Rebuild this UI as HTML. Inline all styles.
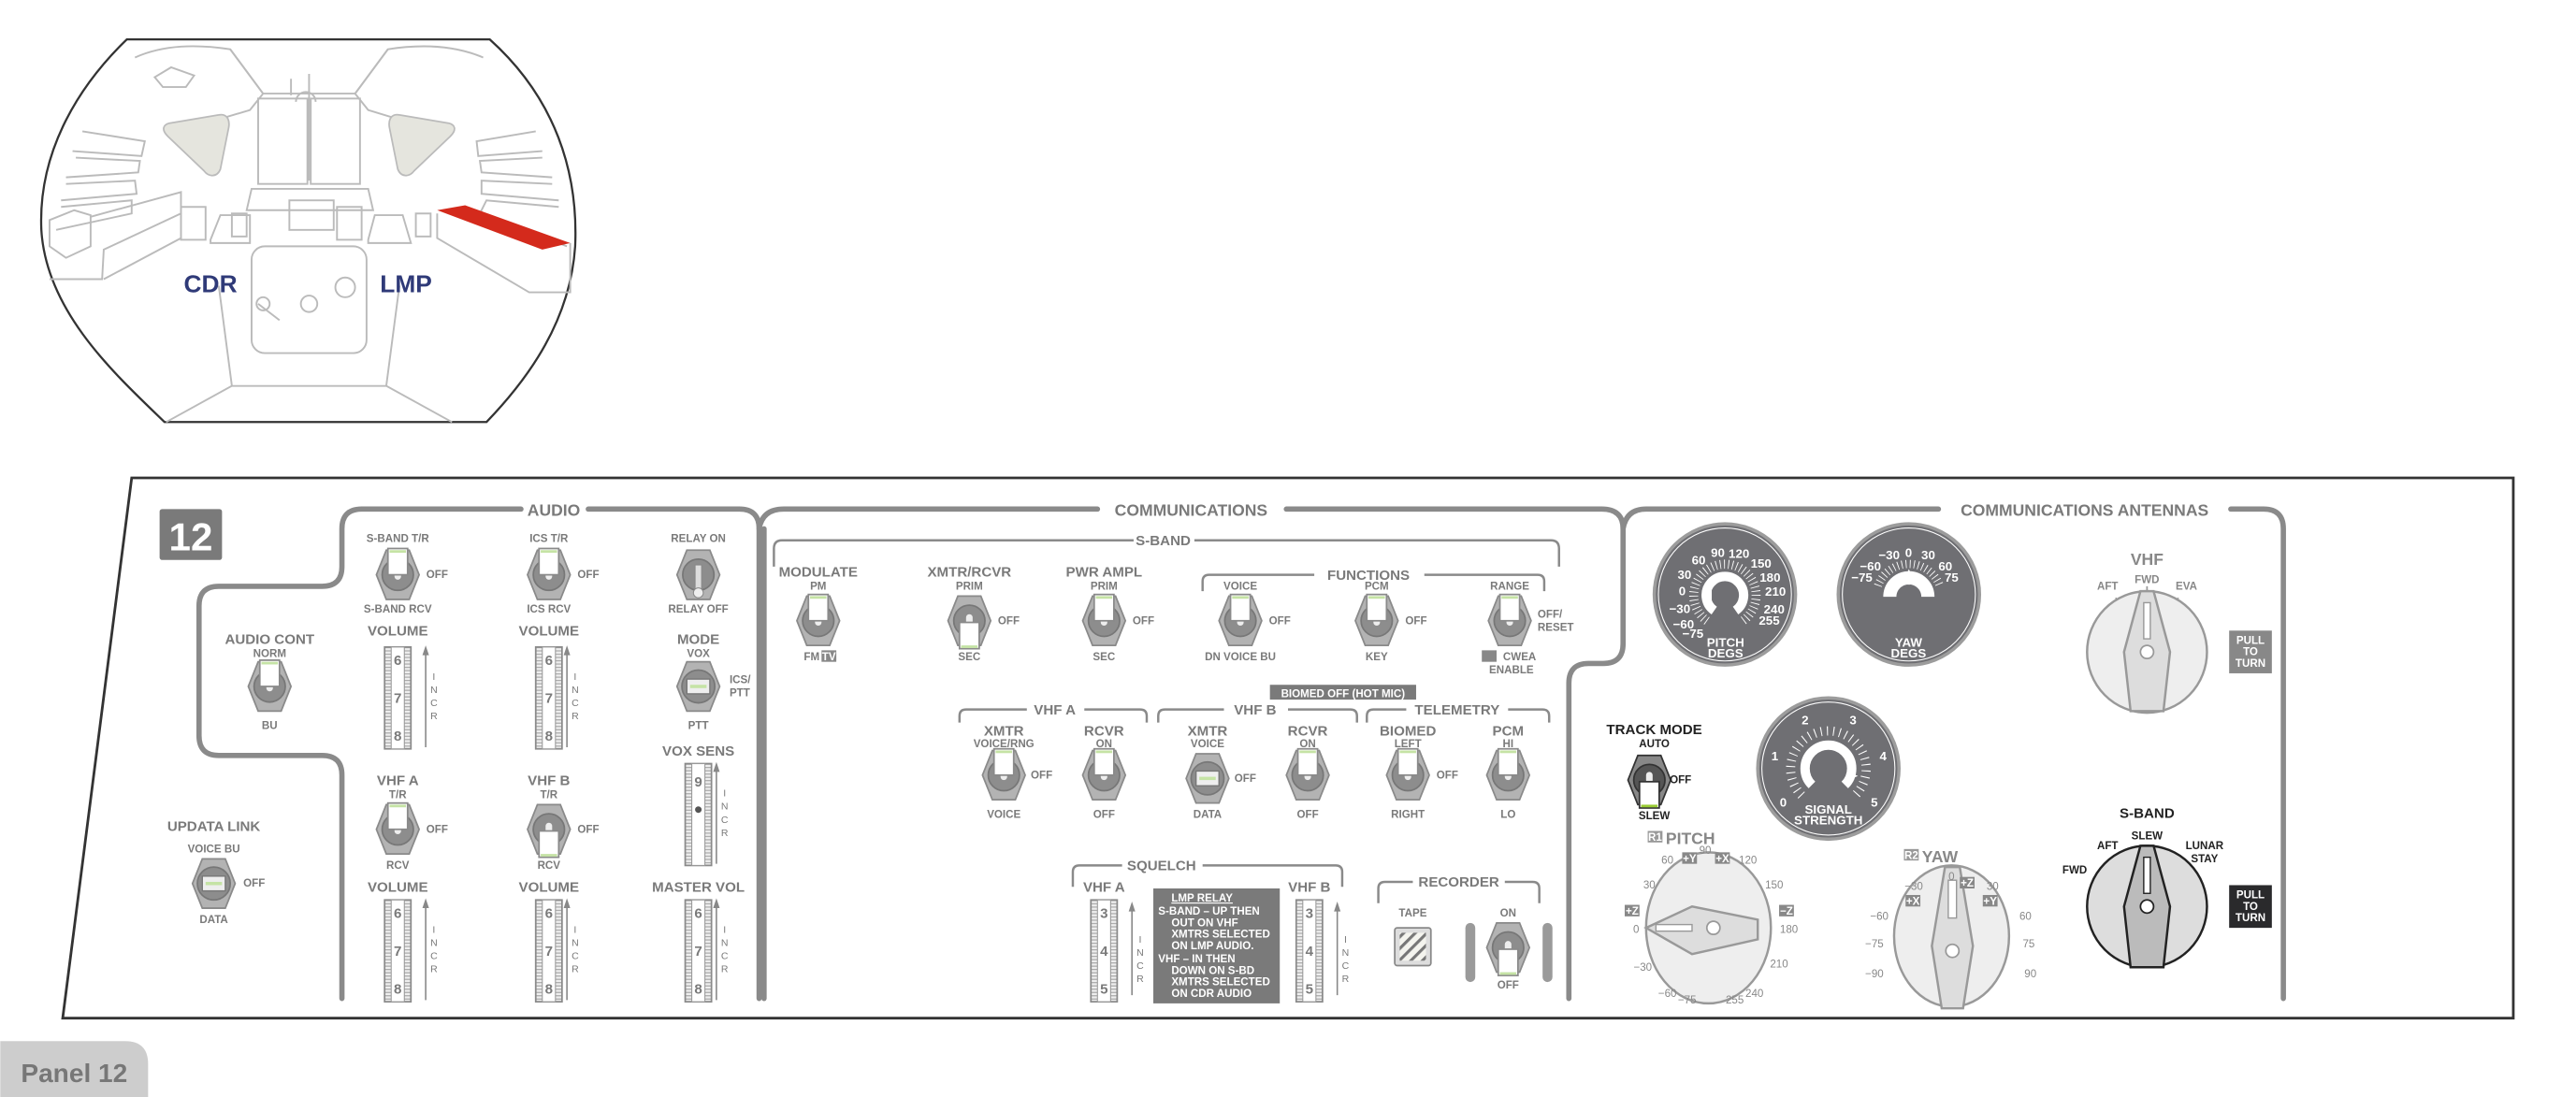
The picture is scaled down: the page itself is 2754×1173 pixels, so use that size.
<!DOCTYPE html>
<html><head><meta charset="utf-8"><style>
html,body{margin:0;padding:0;background:#fff;width:2754px;height:1173px;overflow:hidden}
svg{display:block}
text{font-family:"Liberation Sans Narrow","Liberation Sans",sans-serif;font-weight:bold;fill:#7a7a7a;text-anchor:middle}
.h{font-size:10px}.m{font-size:8.6px}.s{font-size:6.6px}
text.w,.w text{fill:#fff}
text.k,.k text{fill:#222}
text.gy,.gy text{fill:#888}
text.st,.st text{text-anchor:start}
.nm text{font-weight:normal}
.g{fill:none;stroke:#8a8a8a;stroke-width:3.2;stroke-linecap:round}
.t{fill:none;stroke:#8a8a8a;stroke-width:1.4}
.c{fill:none;stroke:#bbb;stroke-width:1.1}
</style></head><body>
<svg width="2754" height="1173" viewBox="0 0 1568 668" xmlns="http://www.w3.org/2000/svg">
<defs>
<g id="hex"><polygon points="-13,0 -7,-15 7,-15 13,0 7,15 -7,15" fill="#b3b3b3" stroke="#8a8a8a" stroke-width="1"/><circle r="9.5" fill="#8d8d8d" stroke="#777" stroke-width="1"/><rect x="-2" y="-4" width="4" height="7" rx="2" fill="#eee"/></g>
<g id="up"><use href="#hex"/><rect x="-6" y="-16" width="12" height="16" fill="#fff" stroke="#8a8a8a" stroke-width="1"/><rect x="-5" y="-15" width="10" height="1.6" fill="#c5e3a5"/></g>
<g id="dn"><use href="#hex"/><rect x="-6" y="1" width="12" height="16" fill="#fff" stroke="#8a8a8a" stroke-width="1"/><rect x="-5" y="15" width="10" height="1.6" fill="#c5e3a5"/></g>
<g id="th"><polygon points="-13,0 -7,-15 7,-15 13,0 7,15 -7,15" fill="#b3b3b3" stroke="#8a8a8a" stroke-width="1"/><circle r="10" fill="#8d8d8d" stroke="#777"/><rect x="-7" y="-4.5" width="14" height="9" fill="#eee" stroke="#777" stroke-width="0.8"/><rect x="-5" y="-1" width="10" height="2" fill="#c5e3a5"/></g>
<pattern id="tk" width="4" height="2" patternUnits="userSpaceOnUse"><rect width="4" height="2" fill="#eee"/><rect y="0" width="4" height="0.7" fill="#aaa"/></pattern>
<g id="wh"><rect x="-8" y="0" width="16" height="62" fill="url(#tk)" stroke="#8a8a8a" stroke-width="1"/><rect x="-4" y="0" width="8" height="62" fill="#fff" stroke="#999" stroke-width="0.6"/></g>
<pattern id="hatch" width="5" height="5" patternUnits="userSpaceOnUse" patternTransform="rotate(-45)"><rect width="5" height="5" fill="#f4f4ee"/><rect width="5" height="1.8" fill="#777"/></pattern>
</defs>

<!-- COCKPIT -->
<path d="M77,24 L298,24 C338,60 352,105 350,150 C347,195 322,230 296,257 L100,257 C70,228 28,190 25,140 C23,95 45,55 77,24 Z" fill="#fff" stroke="#333" stroke-width="1.3"/>
<g class="c">
<path d="M82,35 C100,27 120,27 140,30 L160,57 L216,57 L236,30 C255,27 275,27 294,35"/>
<path d="M140,30 L160,57 L152,67 L115,78 M236,30 L216,57 L224,67 L260,78"/>
<path d="M94,47 L104,41 L118,46 L113,53 L99,53 Z"/>
<rect x="157" y="60" width="30" height="52"/><rect x="189" y="60" width="30" height="52"/>
<path d="M153,115 L224,115 L227,128 L150,128 Z"/>
<rect x="176" y="122" width="27" height="18"/>
<rect x="153" y="150" width="70" height="65" rx="8"/>
<circle cx="188" cy="185" r="5"/><circle cx="210" cy="175" r="6"/><circle cx="160" cy="185" r="4"/>
<path d="M157,185 L170,195"/>
<path d="M50,80 L88,86 L86,95 L44,92 M46,96 L85,98 L84,105 L40,108 M40,112 L82,110 L83,118 L37,122 M37,126 L80,122 L80,130 L34,140"/>
<path d="M326,80 L290,86 L291,95 L330,92 M330,96 L292,98 L293,105 L336,108 M336,112 L293,110 L293,118 L340,122 M340,126 L296,122 L292,130 L345,150"/>
<path d="M30,134 L45,128 L55,131 L55,150 L40,157 L30,150 Z M55,132 L110,117 L110,130 L63,152 L62,170 L30,170"/>
<path d="M110,130 L110,145 L63,170"/>
<rect x="110" y="126" width="15" height="20"/><rect x="205" y="126" width="15" height="20"/>
<path d="M128,146 L134,131 L152,131 L152,148 L128,148 Z M224,146 L228,131 L245,131 L250,148 L224,148 Z"/>
<rect x="141" y="130" width="9" height="14"/><rect x="253" y="130" width="9" height="14"/>
<path d="M133,174 L141,235 L101,257 M243,174 L235,235 L275,257 M141,235 L235,235"/>
<path d="M266,130 L266,145 L322,178 L347,178 L347,148"/>
<path d="M188,45 L188,110 M177,58 L177,48 M180,62 A6,6 0 1 1 192,62"/>
</g>
<path d="M103,75 L133,70 C138,69 140,73 139,78 L134,103 C132,108 127,108 124,104 L102,83 C98,79 99,76 103,75 Z" fill="#e5e5de" stroke="#bbb"/>
<path d="M273,75 L243,70 C238,69 236,73 237,78 L242,103 C244,108 249,108 252,104 L274,83 C278,79 277,76 273,75 Z" fill="#e5e5de" stroke="#bbb"/>
<polygon points="266,128 283,125 347,148 330,152" fill="#d42a1c"/>
<text x="128" y="178" style="font-family:'Liberation Sans',sans-serif;font-size:15px;fill:#2f3a78">CDR</text>
<text x="247" y="178" style="font-family:'Liberation Sans',sans-serif;font-size:15px;fill:#2f3a78">LMP</text>

<!-- PANEL FRAME -->
<polygon points="80,291 1530,291 1530,620 38,620" fill="#fff" stroke="#333" stroke-width="1.6"/>
<rect x="97" y="310" width="38" height="31" rx="1.5" fill="#7a7a7a"/>
<text x="116" y="335" class="w" style="font-family:'Liberation Sans',sans-serif;font-size:24px">12</text>
<path d="M0,634 L76,634 Q90,634 90,648 L90,668 L0,668 Z" fill="#cdcdcd"/>
<text x="45" y="659" style="font-family:'Liberation Sans',sans-serif;font-size:16px;fill:#777">Panel 12</text>

<!-- GROUP BORDERS -->
<path class="g" d="M208,608 L208,472 Q208,460 196,460 L133,460 Q121,460 121,448 L121,369 Q121,357 133,357 L196,357 Q208,357 208,345 L208,322 Q208,310 220,310 L317,310 M358,310 L450,310 Q462,310 462,322 L462,608"/>
<path class="g" d="M462,322 Q464,310 477,310 L668,310 M783,310 L975,310 Q988,310 988,322 L988,392 Q988,404 976,404 L967,404 Q955,404 955,416 L955,608"/>
<path class="g" d="M465,322 L465,608"/>
<path class="g" d="M988,322 Q990,310 1002,310 L1180,310 M1358,310 L1378,310 Q1390,310 1390,322 L1390,608"/>
<text x="337" y="314" class="h">AUDIO</text>
<text x="725" y="314" class="h">COMMUNICATIONS</text>
<text x="1269" y="314" class="h">COMMUNICATIONS ANTENNAS</text>

<!-- BRACKETS -->
<path class="t" d="M471,345 L471,334 Q471,329 476,329 L690,329 M727,329 L944,329 Q949,329 949,334 L949,345"/>
<text x="708" y="332" class="m">S-BAND</text>
<path class="t" d="M732,360 L732,354 Q732,350 736,350 L800,350 M867,350 L936,350 Q940,350 940,354 L940,360"/>
<text x="833" y="353" class="m">FUNCTIONS</text>
<rect x="773" y="417" width="89" height="9" fill="#7a7a7a"/>
<text x="817.5" y="424.5" class="s w">BIOMED OFF (HOT MIC)</text>
<path class="t" d="M584,440 L584,436 Q584,432 588,432 L625,432 M660,432 L694,432 Q698,432 698,436 L698,440"/>
<text x="642" y="435" class="m">VHF A</text>
<path class="t" d="M705,440 L705,436 Q705,432 709,432 L745,432 M784,432 L822,432 Q826,432 826,436 L826,440"/>
<text x="764" y="435" class="m">VHF B</text>
<path class="t" d="M832,440 L832,436 Q832,432 836,432 L856,432 M918,432 L939,432 Q943,432 943,436 L943,440"/>
<text x="887" y="435" class="m">TELEMETRY</text>
<path class="t" d="M653,540 L653,531 Q653,527 657,527 L683,527 M732,527 L813,527 Q817,527 817,531 L817,540"/>
<text x="707" y="530" class="m">SQUELCH</text>
<path class="t" d="M839,550 L839,541 Q839,537 843,537 L860,537 M916,537 L933,537 Q937,537 937,541 L937,550"/>
<text x="888" y="540" class="m">RECORDER</text>
<rect x="892" y="562" width="6" height="36" rx="3" fill="#9a9a9a"/>
<rect x="939" y="562" width="6" height="36" rx="3" fill="#9a9a9a"/>

<!-- AUDIO -->
<text x="242" y="330" class="s">S-BAND T/R</text><use href="#up" x="242" y="350"/><text x="266" y="352" class="s">OFF</text><text x="242" y="373" class="s">S-BAND RCV</text>
<text x="334" y="330" class="s">ICS T/R</text><use href="#up" x="334" y="350"/><text x="358" y="352" class="s">OFF</text><text x="334" y="373" class="s">ICS RCV</text>
<text x="425" y="330" class="s">RELAY ON</text>
<g transform="translate(425,350)"><polygon points="-13,0 -7,-15 7,-15 13,0 7,15 -7,15" fill="#b3b3b3" stroke="#8a8a8a"/><circle r="9.5" fill="#8d8d8d" stroke="#777"/><rect x="-2" y="-6" width="4" height="16" fill="#ddd" stroke="#888" stroke-width="0.6"/><circle cy="11" r="3" fill="#eee" stroke="#888" stroke-width="0.6"/></g>
<text x="425" y="373" class="s">RELAY OFF</text>

<text x="164" y="392" class="m">AUDIO CONT</text><text x="164" y="400" class="s">NORM</text><use href="#up" x="164" y="418"/><text x="164" y="444" class="s">BU</text>

<text x="242" y="387" class="m">VOLUME</text><use href="#wh" x="242" y="394"/>
<text x="334" y="387" class="m">VOLUME</text><use href="#wh" x="334" y="394"/>
<text x="425" y="392" class="m">MODE</text><text x="425" y="400" class="s">VOX</text><use href="#th" x="425" y="418"/><text x="444" y="416" class="s st">ICS/</text><text x="444" y="424" class="s st">PTT</text><text x="425" y="444" class="s">PTT</text>
<text x="425" y="460" class="m">VOX SENS</text><use href="#wh" x="425" y="465"/>
<text x="425" y="479" class="m">9</text><circle cx="425" cy="493" r="2" fill="#555"/>

<text x="242" y="478" class="m">VHF A</text><text x="242" y="486" class="s">T/R</text><use href="#up" x="242" y="505"/><text x="266" y="507" class="s">OFF</text><text x="242" y="529" class="s">RCV</text>
<text x="334" y="478" class="m">VHF B</text><text x="334" y="486" class="s">T/R</text><use href="#dn" x="334" y="505"/><text x="358" y="507" class="s">OFF</text><text x="334" y="529" class="s">RCV</text>
<text x="242" y="543" class="m">VOLUME</text><use href="#wh" x="242" y="548"/>
<text x="334" y="543" class="m">VOLUME</text><use href="#wh" x="334" y="548"/>
<text x="425" y="543" class="m">MASTER VOL</text><use href="#wh" x="425" y="548"/>

<text x="130" y="506" class="m">UPDATA LINK</text><text x="130" y="519" class="s">VOICE BU</text><use href="#th" x="130" y="538"/><text x="148" y="540" class="s st">OFF</text><text x="130" y="562" class="s">DATA</text>

<g class="m">
<text x="242" y="405">6</text><text x="242" y="428">7</text><text x="242" y="451">8</text>
<text x="334" y="405">6</text><text x="334" y="428">7</text><text x="334" y="451">8</text>
<text x="242" y="559">6</text><text x="242" y="582">7</text><text x="242" y="605">8</text>
<text x="334" y="559">6</text><text x="334" y="582">7</text><text x="334" y="605">8</text>
<text x="425" y="559">6</text><text x="425" y="582">7</text><text x="425" y="605">8</text>
</g>
<g fill="none" stroke="#888" stroke-width="0.9">
<path d="M259,455 L259,396 M345,455 L345,396 M259,609 L259,550 M345,609 L345,550 M436,609 L436,550 M436,526 L436,467 M689,606 L689,552 M814,606 L814,552"/>
</g>
<g fill="#888"><path d="M257,399 L259,393 L261,399Z M343,399 L345,393 L347,399Z M257,553 L259,547 L261,553Z M343,553 L345,547 L347,553Z M434,553 L436,547 L438,553Z M434,470 L436,464 L438,470Z M687,555 L689,549 L691,555Z M812,555 L814,549 L816,555Z"/></g>
<g class="nm" style="font-size:6px">
<text x="264" y="414">I</text><text x="264" y="422">N</text><text x="264" y="430">C</text><text x="264" y="438">R</text>
<text x="350" y="414">I</text><text x="350" y="422">N</text><text x="350" y="430">C</text><text x="350" y="438">R</text>
<text x="264" y="568">I</text><text x="264" y="576">N</text><text x="264" y="584">C</text><text x="264" y="592">R</text>
<text x="350" y="568">I</text><text x="350" y="576">N</text><text x="350" y="584">C</text><text x="350" y="592">R</text>
<text x="441" y="568">I</text><text x="441" y="576">N</text><text x="441" y="584">C</text><text x="441" y="592">R</text>
<text x="441" y="485">I</text><text x="441" y="493">N</text><text x="441" y="501">C</text><text x="441" y="509">R</text>
<text x="694" y="574">I</text><text x="694" y="582">N</text><text x="694" y="590">C</text><text x="694" y="598">R</text>
<text x="819" y="574">I</text><text x="819" y="582">N</text><text x="819" y="590">C</text><text x="819" y="598">R</text>
</g>

<!-- COMMUNICATIONS -->
<text x="498" y="351" class="m">MODULATE</text><text x="498" y="359" class="s">PM</text><use href="#up" x="498" y="378"/>
<text x="494" y="402" class="s">FM</text><rect x="500" y="396" width="9" height="7" fill="#888"/><text x="504.5" y="402" class="s w">TV</text>
<text x="590" y="351" class="m">XMTR/RCVR</text><text x="590" y="359" class="s">PRIM</text><use href="#dn" x="590" y="378"/><text x="614" y="380" class="s">OFF</text><text x="590" y="402" class="s">SEC</text>
<text x="672" y="351" class="m">PWR AMPL</text><text x="672" y="359" class="s">PRIM</text><use href="#up" x="672" y="378"/><text x="696" y="380" class="s">OFF</text><text x="672" y="402" class="s">SEC</text>
<text x="755" y="359" class="s">VOICE</text><use href="#up" x="755" y="378"/><text x="779" y="380" class="s">OFF</text><text x="755" y="402" class="s">DN VOICE BU</text>
<text x="838" y="359" class="s">PCM</text><use href="#up" x="838" y="378"/><text x="862" y="380" class="s">OFF</text><text x="838" y="402" class="s">KEY</text>
<text x="919" y="359" class="s">RANGE</text><use href="#up" x="919" y="378"/><text x="936" y="376" class="s st">OFF/</text><text x="936" y="384" class="s st">RESET</text>
<rect x="902" y="396" width="9" height="7" fill="#888"/><text x="925" y="402" class="s">CWEA</text><text x="920" y="410" class="s">ENABLE</text>

<text x="611" y="448" class="m">XMTR</text><text x="611" y="455" class="s">VOICE/RNG</text><use href="#up" x="611" y="472"/><text x="634" y="474" class="s">OFF</text><text x="611" y="498" class="s">VOICE</text>
<text x="672" y="448" class="m">RCVR</text><text x="672" y="455" class="s">ON</text><use href="#up" x="672" y="472"/><text x="672" y="498" class="s">OFF</text>
<text x="735" y="448" class="m">XMTR</text><text x="735" y="455" class="s">VOICE</text><use href="#th" x="735" y="474"/><text x="758" y="476" class="s">OFF</text><text x="735" y="498" class="s">DATA</text>
<text x="796" y="448" class="m">RCVR</text><text x="796" y="455" class="s">ON</text><use href="#up" x="796" y="472"/><text x="796" y="498" class="s">OFF</text>
<text x="857" y="448" class="m">BIOMED</text><text x="857" y="455" class="s">LEFT</text><use href="#up" x="857" y="472"/><text x="881" y="474" class="s">OFF</text><text x="857" y="498" class="s">RIGHT</text>
<text x="918" y="448" class="m">PCM</text><text x="918" y="455" class="s">HI</text><use href="#up" x="918" y="472"/><text x="918" y="498" class="s">LO</text>

<text x="672" y="543" class="m">VHF A</text><use href="#wh" x="672" y="548"/>
<text x="797" y="543" class="m">VHF B</text><use href="#wh" x="797" y="548"/>
<g class="m"><text x="672" y="559">3</text><text x="672" y="582">4</text><text x="672" y="605">5</text><text x="797" y="559">3</text><text x="797" y="582">4</text><text x="797" y="605">5</text></g>
<rect x="702" y="541" width="77" height="70" fill="#7a7a7a"/>
<g class="s w st">
<text x="713" y="549" style="text-decoration:underline">LMP RELAY</text>
<text x="705" y="557">S-BAND – UP THEN</text><text x="713" y="564">OUT ON VHF</text><text x="713" y="571">XMTRS SELECTED</text><text x="713" y="578">ON LMP AUDIO.</text>
<text x="705" y="586">VHF – IN THEN</text><text x="713" y="593">DOWN ON S-BD</text><text x="713" y="600">XMTRS SELECTED</text><text x="713" y="607">ON CDR AUDIO</text>
</g>
<text x="860" y="558" class="s">TAPE</text><rect x="849" y="565" width="22" height="23" rx="1.5" fill="#ddd" stroke="#888"/><rect x="852" y="568" width="16" height="17" fill="url(#hatch)"/>
<text x="918" y="558" class="s">ON</text><use href="#dn" x="918" y="577"/><text x="918" y="602" class="s">OFF</text>

<!-- ANTENNAS: dials -->
<circle cx="1050" cy="362" r="43" fill="#6f6f73" stroke="#9c9c9c" stroke-width="2"/><circle cx="1050" cy="362" r="40.5" fill="none" stroke="#fff" stroke-width="0.6"/>
<path d="M1043.5,371.8 A11.4,11.4 0 1 1 1056.5,371.8" fill="none" stroke="#fff" stroke-width="5.7"/>
<path d="M1039.1,378.1 A19,19 0 1 1 1060.9,378.1" fill="none" stroke="#fff" stroke-width="5.5" stroke-dasharray="0.5 2"/>
<polygon points="1036,362.5 1042,359 1042,366" fill="#fff"/>
<g class="w" style="font-size:7.6px">
<text x="1045.7" y="339">90</text><text x="1058.6" y="339.6">120</text><text x="1034" y="343.8">60</text><text x="1072" y="345.8">150</text><text x="1025.4" y="352.6">30</text><text x="1077.5" y="354.3">180</text><text x="1024" y="362.4">0</text><text x="1080.8" y="362.8">210</text><text x="1022.5" y="373.3">−30</text><text x="1080" y="373.6">240</text><text x="1024.8" y="382.8">−60</text><text x="1077" y="380.5">255</text><text x="1030.5" y="388.4">−75</text>
<text x="1050.4" y="393.7">PITCH</text><text x="1050.4" y="400.4">DEGS</text>
</g>
<circle cx="1162" cy="362" r="43" fill="#6f6f73" stroke="#9c9c9c" stroke-width="2"/><circle cx="1162" cy="362" r="40.5" fill="none" stroke="#fff" stroke-width="0.6"/>
<path d="M1150.4,363.4 A11.6,11.6 0 0 1 1173.6,363.4" fill="none" stroke="#fff" stroke-width="8"/>
<path d="M1143.2,356.6 A20,20 0 0 1 1180.8,356.6" fill="none" stroke="#fff" stroke-width="5" stroke-dasharray="0.5 2"/>
<polygon points="1159,353 1162,346.5 1165,353" fill="#fff"/>
<rect x="1161.3" y="352" width="1.4" height="4" fill="#fff"/>
<g class="w" style="font-size:7.6px">
<text x="1150" y="340.6">−30</text><text x="1161.8" y="339.1">0</text><text x="1173.8" y="340.6">30</text><text x="1138.6" y="347.3">−60</text><text x="1184.2" y="347.3">60</text><text x="1133.4" y="354.3">−75</text><text x="1188" y="354.3">75</text>
<text x="1161.8" y="393.8">YAW</text><text x="1161.8" y="400.4">DEGS</text>
</g>
<circle cx="1113" cy="468" r="43" fill="#6f6f73" stroke="#9c9c9c" stroke-width="2"/><circle cx="1113" cy="468" r="40.5" fill="none" stroke="#fff" stroke-width="0.6"/>
<path d="M1103,478 A14.2,14.2 0 1 1 1123,478" fill="none" stroke="#fff" stroke-width="5.7"/>
<path d="M1096.7,484.3 A23,23 0 1 1 1129.3,484.3" fill="none" stroke="#fff" stroke-width="5.6" stroke-dasharray="0.6 3.2"/>
<polygon points="1125,470 1131,472.5 1125,475" fill="#fff"/>
<g class="w" style="font-size:7.6px">
<text x="1098.8" y="441.2">2</text><text x="1128" y="441.2">3</text><text x="1080.4" y="463">1</text><text x="1146.3" y="463">4</text><text x="1085.5" y="491.2">0</text><text x="1141" y="491.2">5</text>
<text x="1113" y="495.4">SIGNAL</text><text x="1113" y="502.1">STRENGTH</text>
</g>

<!-- TRACK MODE -->
<text x="1007" y="447" class="m k">TRACK MODE</text><text x="1007" y="455" class="s k">AUTO</text>
<g transform="translate(1004,475)"><polygon points="-13,0 -7,-15 7,-15 13,0 7,15 -7,15" fill="#888" stroke="#333"/><circle r="9.5" fill="#555" stroke="#333"/><rect x="-2" y="-5" width="4" height="7" rx="2" fill="#eee"/><rect x="-6" y="1" width="12" height="16" fill="#fff" stroke="#333"/><rect x="-5" y="15" width="10" height="1.6" fill="#9c3"/></g>
<text x="1023" y="477" class="s k">OFF</text><text x="1007" y="499" class="s k">SLEW</text>

<!-- PITCH knob -->
<rect x="1003" y="506" width="9" height="7" fill="#999"/><text x="1007.5" y="512" class="s w">R1</text><text x="1014" y="514" class="h gy st">PITCH</text>
<ellipse cx="1040" cy="565" rx="38" ry="46" fill="#eee" stroke="#999" stroke-width="1.4"/>
<polygon points="1002,565 1030,552 1070,560 1070,572 1030,581" fill="#ddd" stroke="#999" stroke-width="1.4"/>
<rect x="1008" y="563" width="22" height="4" fill="#fff" stroke="#999" stroke-width="0.8"/>
<circle cx="1043" cy="565" r="4" fill="#fff" stroke="#999"/>
<g class="s gy nm">
<text x="1015" y="526">60</text><text x="1038" y="520">90</text><text x="1064" y="526">120</text><text x="1004" y="541">30</text><text x="1080" y="541">150</text><text x="996" y="568">0</text><text x="1089" y="568">180</text><text x="1000" y="591">−30</text><text x="1083" y="589">210</text><text x="1015" y="607">−60</text><text x="1027" y="611">−75</text><text x="1056" y="611">255</text><text x="1068" y="607">240</text>
</g>
<rect x="1024" y="519" width="9" height="7" fill="#888"/><text x="1028.5" y="525" class="s w">+Y</text>
<rect x="1044" y="519" width="9" height="7" fill="#888"/><text x="1048.5" y="525" class="s w">+X</text>
<rect x="989" y="551" width="9" height="7" fill="#888"/><text x="993.5" y="557" class="s w">+Z</text>
<rect x="1083" y="551" width="9" height="7" fill="#888"/><text x="1087.5" y="557" class="s w">−Z</text>

<!-- YAW knob -->
<rect x="1159" y="517" width="9" height="7" fill="#999"/><text x="1163.5" y="523" class="s w">R2</text><text x="1170" y="525" class="h gy st">YAW</text>
<ellipse cx="1188" cy="570" rx="35" ry="43" fill="#eee" stroke="#999" stroke-width="1.4"/>
<polygon points="1184,528 1193,528 1201,576 1195,614 1182,614 1176,576" fill="#ddd" stroke="#999" stroke-width="1.4"/>
<rect x="1186" y="536" width="5" height="23" fill="#fff" stroke="#999" stroke-width="0.8"/>
<circle cx="1188.5" cy="579" r="4" fill="#fff" stroke="#999"/>
<g class="s gy nm">
<text x="1165" y="542">−30</text><text x="1188" y="536">0</text><text x="1213" y="542">30</text><text x="1144" y="560">−60</text><text x="1233" y="560">60</text><text x="1141" y="577">−75</text><text x="1235" y="577">75</text><text x="1141" y="595">−90</text><text x="1236" y="595">90</text>
</g>
<rect x="1193" y="534" width="9" height="7" fill="#888"/><text x="1197.5" y="540" class="s w">+Z</text>
<rect x="1160" y="545" width="9" height="7" fill="#888"/><text x="1164.5" y="551" class="s w">+X</text>
<rect x="1207" y="545" width="9" height="7" fill="#888"/><text x="1211.5" y="551" class="s w">+Y</text>

<!-- VHF knob -->
<text x="1307" y="344" class="h gy">VHF</text>
<text x="1283" y="359" class="s gy">AFT</text><text x="1307" y="355" class="s gy">FWD</text><text x="1331" y="359" class="s gy">EVA</text>
<path d="M1288,364 L1290,369 M1307,357 L1307,361 M1326,364 L1324,369" stroke="#999" stroke-width="1"/>
<ellipse cx="1307" cy="397" rx="36.5" ry="37" fill="#eee" stroke="#999" stroke-width="1.4"/>
<polygon points="1303,360 1311,360 1321,397 1317,433 1297,433 1293,397" fill="#ddd" stroke="#999" stroke-width="1.4"/>
<rect x="1305" y="367" width="4" height="22" fill="#fff" stroke="#999" stroke-width="0.8"/>
<circle cx="1307" cy="397" r="4" fill="#fff" stroke="#999"/>
<rect x="1357" y="384" width="26" height="26" fill="#888"/>
<text x="1370" y="392" class="s w">PULL</text><text x="1370" y="399" class="s w">TO</text><text x="1370" y="406" class="s w">TURN</text>

<!-- S-BAND knob -->
<text x="1307" y="498" class="m k">S-BAND</text>
<text x="1307" y="511" class="s k">SLEW</text><text x="1283" y="517" class="s k">AFT</text><text x="1342" y="517" class="s k">LUNAR</text><text x="1342" y="525" class="s k">STAY</text><text x="1263" y="532" class="s k">FWD</text>
<ellipse cx="1307" cy="552" rx="36.5" ry="37" fill="#ddd" stroke="#222" stroke-width="1.4"/>
<polygon points="1303,515 1311,515 1321,552 1317,589 1297,589 1293,552" fill="#bbb" stroke="#222" stroke-width="1.4"/>
<rect x="1305" y="522" width="4" height="22" fill="#fff" stroke="#222" stroke-width="0.8"/>
<circle cx="1307" cy="552" r="4" fill="#fff" stroke="#222"/>
<rect x="1357" y="539" width="26" height="26" fill="#2a2a2c"/>
<text x="1370" y="547" class="s w">PULL</text><text x="1370" y="554" class="s w">TO</text><text x="1370" y="561" class="s w">TURN</text>
</svg>
</body></html>
